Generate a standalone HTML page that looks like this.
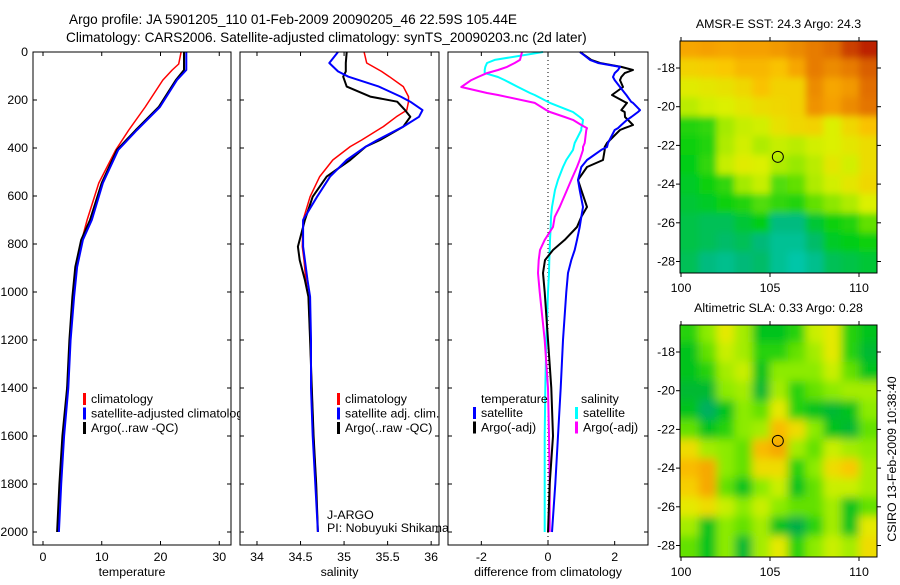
<!DOCTYPE html>
<html><head><meta charset="utf-8"><style>
html,body{margin:0;padding:0;background:#fff;}
svg text{font-family:"Liberation Sans",sans-serif;font-size:12.4px;fill:#000;}
svg text.ttl{font-size:13.6px;}
</style></head><body>
<svg id="fig" width="900" height="580" viewBox="0 0 900 580" xmlns="http://www.w3.org/2000/svg">
<defs>
<clipPath id="cm1"><rect x="680" y="41" width="197" height="232"/></clipPath>
<clipPath id="cm2"><rect x="680" y="325" width="197" height="232"/></clipPath>
<filter id="blur1" x="-5%" y="-5%" width="110%" height="110%"><feGaussianBlur stdDeviation="3.5"/></filter>
<filter id="blur2" x="-5%" y="-5%" width="110%" height="110%"><feGaussianBlur stdDeviation="4.5"/></filter>
</defs>
<text class="ttl" x="69" y="24">Argo profile: JA 5901205_110 01-Feb-2009 20090205_46 22.59S 105.44E</text>
<text class="ttl" x="66" y="42">Climatology: CARS2006. Satellite-adjusted climatology: synTS_20090203.nc (2d later)</text>
<g id="panels"></g>
<g id="maps"></g>
<text transform="translate(896,459) rotate(-90)" text-anchor="middle">CSIRO 13-Feb-2009 10:38:40</text>
</svg>
<script>
// ---------- profile data ----------
const depthT = [0,50,75,117,229,325,408,546,700,783,896,1020,1200,1400,1600,1800,2000];
const tempClim = [23.5,23.1,22.0,20.4,17.4,14.6,12.4,9.5,7.5,6.6,5.7,5.0,4.6,4.1,3.4,2.9,2.5];
const tempSat  = [24.4,24.4,24.4,22.8,19.9,16.0,12.8,10.2,8.3,6.8,5.8,5.3,4.7,4.3,3.6,3.1,2.7];
const tempArgo = [24.0,24.0,24.0,22.6,19.7,15.8,12.6,10.0,8.0,6.5,5.5,5.0,4.5,4.1,3.3,2.8,2.4];

const depthS = [0,46,81,103,144,186,207,242,270,311,367,394,450,519,603,700,811,867,950,1020,1200,1400,1600,1800,2000];
const salClim = [35.23,35.26,35.43,35.52,35.68,35.74,35.74,35.72,35.6,35.45,35.2,35.07,34.87,34.72,34.61,34.53,34.52,34.54,34.56,34.59,34.61,34.63,34.65,34.68,34.70];
const salSat  = [34.93,34.83,34.93,35.05,35.4,35.65,35.76,35.9,35.86,35.68,35.38,35.25,35.03,34.84,34.69,34.53,34.53,34.55,34.58,34.61,34.62,34.62,34.64,34.67,34.70];
const salArgo = [35.03,35.02,35.02,34.99,35.03,35.3,35.61,35.7,35.76,35.68,35.41,35.25,35.07,34.80,34.64,34.55,34.47,34.49,34.55,34.59,34.61,34.63,34.65,34.68,34.70];

const depthD = [0,33,46,62,75,88,104,117,146,171,179,208,212,242,250,271,283,304,317,325,379,396,408,450,479,533,575,646,687,729,783,825,867,921,1000,1200,1400,1600,1800,2000];
const dTempSat  = [0.96,1.26,1.5,2.16,2.1,2.0,1.95,2.0,2.16,2.3,2.35,2.5,2.55,2.76,2.7,2.5,2.37,2.2,2.1,2.0,1.8,1.77,1.6,1.17,1.0,0.9,0.95,1.05,1.0,0.95,0.87,0.8,0.7,0.6,0.55,0.45,0.38,0.3,0.22,0.12];
const dTempArgo = [0.96,1.3,1.56,2.2,2.55,2.3,2.2,2.16,2.25,2.0,1.92,2.3,2.37,2.2,2.3,2.31,2.4,2.55,2.3,2.16,1.77,1.7,1.7,1.65,1.17,0.9,1.0,1.17,1.0,0.87,0.5,0.15,-0.09,-0.15,-0.1,0.0,0.1,0.15,0.05,0.0];
const dSalSat   = [-0.15,-1.6,-1.83,-1.88,-1.9,-1.9,-1.5,-1.3,-0.9,-0.54,-0.4,0.0,0.06,0.6,0.75,0.95,1.05,1.03,1.0,1.0,0.8,0.77,0.75,0.55,0.45,0.3,0.21,0.12,0.09,0.08,0.06,0.05,0.04,0.03,0.0,-0.05,-0.08,-0.1,-0.1,-0.1];
const dSalArgo  = [-0.78,-0.84,-1.0,-1.23,-1.5,-1.83,-2.1,-2.3,-2.6,-1.83,-1.5,-0.54,-0.4,-0.05,0.06,0.5,0.75,1.0,1.17,1.15,1.1,1.05,1.05,0.95,0.87,0.7,0.57,0.35,0.2,0.15,-0.1,-0.24,-0.28,-0.3,-0.25,-0.1,0.0,0.03,0.05,0.05];

const depthTicks = [0,200,400,600,800,1000,1200,1400,1600,1800,2000];
const tempTicks = [0,10,20,30];
const salTicks = [34,34.5,35,35.5,36];
const salTickLabels = ["34","34.5","35","35.5","36"];
const diffTicks = [-2,0,2];

// ---------- map data (rows lat -17..-28, cols lon 100.5..110.5) ----------
const mapLats = [-17,-18,-19,-20,-21,-22,-23,-24,-25,-26,-27,-28];
const mapLons = [100.5,101.5,102.5,103.5,104.5,105.5,106.5,107.5,108.5,109.5,110.5];
const sstGrid = [
[25.2,25.3,25.2,25.3,25.3,25.4,25.6,25.8,26.0,26.3,26.5],
[24.4,24.5,24.6,24.9,24.9,24.7,25.2,25.8,25.6,25.8,26.1],
[23.9,24.0,24.1,24.3,24.7,24.4,24.4,25.6,25.2,25.4,26.0],
[23.5,23.7,23.8,24.0,24.2,24.3,24.4,25.5,25.3,25.6,25.9],
[22.4,22.5,23.3,23.6,23.7,24.1,24.3,24.4,23.8,24.3,24.7],
[22.3,22.4,23.4,23.7,23.4,23.6,23.5,23.7,23.8,24.0,24.2],
[22.2,22.5,23.6,23.9,23.8,23.4,23.2,23.5,24.0,23.7,24.2],
[22.1,22.3,22.5,23.3,23.6,22.7,22.8,23.4,23.7,24.0,24.3],
[22.0,22.1,22.3,22.4,22.7,22.5,22.4,22.8,23.1,23.4,23.8],
[21.9,21.8,21.8,22.0,22.2,21.5,21.5,22.0,22.3,22.4,22.8],
[21.9,21.8,21.7,21.8,21.6,21.2,21.2,21.7,22.1,22.2,22.3],
[21.8,21.5,21.3,21.6,21.7,21.2,20.9,21.3,21.8,21.9,22.0]];
const slaGrid = [
[0.15,0.2,0.28,0.22,0.12,0.12,0.15,0.25,0.28,0.15,0.12],
[0.12,0.18,0.25,0.22,0.15,0.15,0.18,0.22,0.28,0.15,0.1],
[0.12,0.15,0.22,0.25,0.12,0.2,0.2,0.2,0.25,0.18,0.12],
[0.1,0.1,0.2,0.22,0.1,0.22,0.15,0.18,0.2,0.22,0.22],
[0.12,0.05,0.12,0.2,0.18,0.28,0.15,0.12,0.1,0.12,0.2],
[0.18,0.12,0.15,0.2,0.22,0.35,0.3,0.2,0.12,0.1,0.18],
[0.3,0.22,0.2,0.18,0.35,0.38,0.22,0.18,0.25,0.22,0.2],
[0.35,0.38,0.2,0.18,0.3,0.3,0.15,0.2,0.3,0.33,0.22],
[0.32,0.38,0.18,0.12,0.2,0.25,0.12,0.18,0.25,0.25,0.22],
[0.28,0.3,0.25,0.2,0.25,0.2,0.18,0.18,0.22,0.12,0.18],
[0.22,0.12,0.2,0.18,0.22,0.12,0.08,0.15,0.22,0.12,0.28],
[0.18,0.12,0.2,0.1,0.22,0.28,0.15,0.2,0.25,0.22,0.3]];
const argoLon = 105.44, argoLat = -22.59;
const mapLatTicks = [-18,-20,-22,-24,-26,-28];
const mapLonTicks = [100,105,110];

const NS='http://www.w3.org/2000/svg';
function mk(tag, attrs, parent){const e=document.createElementNS(NS,tag);for(const k in attrs)e.setAttribute(k,attrs[k]);if(parent)parent.appendChild(e);return e;}
const panels=document.getElementById('panels');
const Y0=52, PY=0.24, PBOT=545;
const yD = d => Y0 + d*PY;

function panel(name,x0,x1,dmin,dmax,ticks,tickLabels,xlabel,showY){
  const g=mk('g',{},panels);
  
  
  mk('rect',{x:x0,y:Y0,width:x1-x0,height:PBOT-Y0,fill:'#fff',stroke:'none'},g);
  const xs = v => x0 + (v-dmin)/(dmax-dmin)*(x1-x0);
  ticks.forEach((t,i)=>{
    const x=xs(t);
    mk('line',{x1:x,y1:PBOT,x2:x,y2:PBOT-4,stroke:'#000'},g);
    mk('line',{x1:x,y1:Y0,x2:x,y2:Y0+4,stroke:'#000'},g);
    const tx=mk('text',{x:x,y:561,'text-anchor':'middle'},g);
    
    
    tx.textContent=tickLabels[i];
  });
  depthTicks.forEach(d=>{
    const y=yD(d);
    mk('line',{x1:x0,y1:y,x2:x0+4,y2:y,stroke:'#000'},g);
    mk('line',{x1:x1,y1:y,x2:x1-4,y2:y,stroke:'#000'},g);
    if(showY){
      const tx=mk('text',{x:x0-5,y:y+4,'text-anchor':'end'},g);
      
      
      tx.textContent=d;
    }
  });
  const xl=mk('text',{x:(x0+x1)/2,y:576,'text-anchor':'middle'},g);
  
  
  xl.textContent=xlabel;
  return {g,xs};
}
function line(p,depths,vals,color,w,name){
  const pts=depths.map((d,i)=>p.xs(vals[i]).toFixed(1)+','+yD(d).toFixed(1)).join(' ');
  const l=mk('polyline',{points:pts,fill:'none',stroke:color,'stroke-width':w,'stroke-linejoin':'round'},p.g);
  
  
}
function frame(p,x0,x1){mk('rect',{x:x0,y:Y0,width:x1-x0,height:PBOT-Y0,fill:'none',stroke:'#000'},p.g);}
function legend(p,x,y,items){
  items.forEach((it,i)=>{
    const yy=y+i*14.5;
    if(it.c){const b=mk('rect',{x:x,y:yy-10,width:3,height:12,fill:it.c},p.g);
      
      }
    const t=mk('text',{x:x+(it.c?8:0),y:yy},p.g);
    
    
    t.textContent=it.t;
  });
}
// Panel 1 temperature
const p1=panel('temperature-panel',33,231,-1.7,32,tempTicks,tempTicks.map(String),'temperature',true);
line(p1,depthT,tempClim,'#f00',1.5,'temp-climatology-line');
line(p1,depthT,tempArgo,'#000',2,'temp-argo-line');
line(p1,depthT,tempSat,'#00f',2,'temp-satellite-line');
legend(p1,83,403,[{c:'#f00',t:'climatology'},{c:'#00f',t:'satellite-adjusted climatology'},{c:'#000',t:'Argo(..raw -QC)'}]);
frame(p1,33,231);
// Panel 2 salinity
const p2=panel('salinity-panel',240,439,33.805,36.09,salTicks,salTickLabels,'salinity',false);
line(p2,depthS,salClim,'#f00',1.5,'sal-climatology-line');
line(p2,depthS,salArgo,'#000',2,'sal-argo-line');
line(p2,depthS,salSat,'#00f',2,'sal-satellite-line');
legend(p2,337,403,[{c:'#f00',t:'climatology'},{c:'#00f',t:'satellite adj. clim.'},{c:'#000',t:'Argo(..raw -QC)'}]);
{const t=mk('text',{x:327,y:519},p2.g);t.textContent='J-ARGO';
 const t2=mk('text',{x:327,y:532},p2.g);t2.textContent='PI: Nobuyuki Shikama';}
frame(p2,240,439);
// Panel 3 difference
const p3=panel('difference-panel',448,648,-3.0,3.0,diffTicks,diffTicks.map(String),'difference from climatology',false);
mk('line',{x1:p3.xs(0),y1:Y0,x2:p3.xs(0),y2:PBOT,stroke:'#000','stroke-dasharray':'1,3'},p3.g);
line(p3,depthD,dSalSat,'#0ff',2,'diff-sal-satellite-line');
line(p3,depthD,dSalArgo,'#f0f',2,'diff-sal-argo-line');
line(p3,depthD,dTempArgo,'#000',2,'diff-temp-argo-line');
line(p3,depthD,dTempSat,'#00f',2,'diff-temp-satellite-line');
legend(p3,481,403,[{t:'temperature'}]);
legend(p3,473,417,[{c:'#00f',t:'satellite'},{c:'#000',t:'Argo(-adj)'}]);
legend(p3,581,403,[{t:'salinity'}]);
legend(p3,575,417,[{c:'#0ff',t:'satellite'},{c:'#f0f',t:'Argo(-adj)'}]);
frame(p3,448,648);

// ---------- maps ----------
const cmapSST=[[20.8,[0,200,175]],[21.6,[0,185,120]],[22.2,[0,205,20]],[23.0,[130,230,0]],[23.8,[220,240,0]],[24.6,[250,200,0]],[25.3,[245,160,0]],[26.0,[225,110,0]],[26.6,[180,20,0]]];
const cmapSLA=[[0.0,[0,175,140]],[0.08,[0,175,70]],[0.13,[0,200,20]],[0.2,[140,235,0]],[0.27,[225,240,0]],[0.33,[250,200,0]],[0.4,[245,155,0]]];
function cmap(stops,v){
  if(v<=stops[0][0])return stops[0][1];
  for(let i=1;i<stops.length;i++){if(v<=stops[i][0]){const a=stops[i-1],b=stops[i],f=(v-a[0])/(b[0]-a[0]);return a[1].map((c,k)=>Math.round(c+(b[1][k]-c)*f));}}
  return stops[stops.length-1][1];
}
const maps=document.getElementById('maps');
function drawMap(name,grid,stops,top,title,clip,blur){
  const g=mk('g',{},maps);
  
  
  const X0=680,W=197,H=232;
  const xl = lon => 681 + (lon-100)*17.8;
  const yl = lat => top + 27 + (-18-lat)*19.35;
  const cg=mk('g',{'clip-path':'url(#'+clip+')'},g);
  mk('rect',{x:X0,y:top,width:W,height:H,fill:'rgb('+cmap(stops,grid[grid.length-1][5]).join(',')+')'},cg);
  const ig=mk('g',{filter:'url(#'+blur+')'},cg);
  grid.forEach((row,r)=>row.forEach((v,c)=>{
    const lon=mapLons[c], lat=mapLats[r];
    const cell=mk('rect',{x:xl(lon-0.5)-(c==0?8:0),y:yl(lat+0.5)-(r==0?8:0),width:17.8+(c==0||c==row.length-1?9:0)+0.5,height:19.35+(r==0||r==grid.length-1?9:0)+0.5,fill:'rgb('+cmap(stops,v).join(',')+')'},ig);
    
    
  }));
  const circ=mk('circle',{cx:xl(argoLon),cy:yl(argoLat),r:5.5,fill:'none',stroke:'#000','stroke-width':1},g);
  
  
  mk('rect',{x:X0,y:top,width:W,height:H,fill:'none',stroke:'#000'},g);
  mapLatTicks.forEach(lat=>{
    const y=yl(lat);
    mk('line',{x1:X0-4,y1:y,x2:X0,y2:y,stroke:'#000'},g);
    mk('line',{x1:X0+W,y1:y,x2:X0+W+4,y2:y,stroke:'#000'},g);
    const t=mk('text',{x:X0-5,y:y+4,'text-anchor':'end'},g);
    
    
    t.textContent=lat;
  });
  mapLonTicks.forEach(lon=>{
    const x=xl(lon);
    mk('line',{x1:x,y1:top-4,x2:x,y2:top,stroke:'#000'},g);
    mk('line',{x1:x,y1:top+H,x2:x,y2:top+H+4,stroke:'#000'},g);
    const t=mk('text',{x:x,y:top+H+19,'text-anchor':'middle'},g);
    
    
    t.textContent=lon;
  });
  const tt=mk('text',{x:X0+W/2,y:top-13,'text-anchor':'middle'},g);
  
  
  tt.textContent=title;
}
drawMap('sst-map',sstGrid,cmapSST,41,'AMSR-E SST: 24.3 Argo: 24.3','cm1','blur1');
drawMap('sla-map',slaGrid,cmapSLA,325,'Altimetric SLA: 0.33 Argo: 0.28','cm2','blur2');
</script>
</body></html>
